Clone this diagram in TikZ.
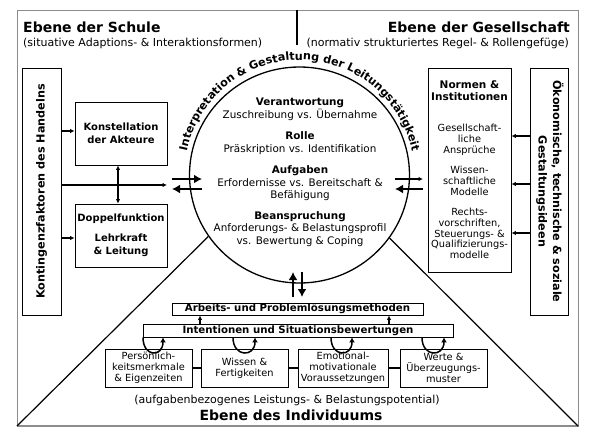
\documentclass[tikz,border=0pt]{standalone}
\usepackage{fontspec}
\setmainfont{DejaVu Sans}
\usetikzlibrary{arrows.meta,shapes.geometric,decorations.text}
\definecolor{framegray}{RGB}{140,140,140}
\newcommand\fsTitle{\fontsize{14}{16}\selectfont\bfseries}
\newcommand\fsSub{\fontsize{11}{13}\selectfont}
\newcommand\fsSide{\fontsize{11.2}{14.5}\selectfont\bfseries}
\newcommand\fsBoxB{\fontsize{10}{12.5}\selectfont\bfseries}
\newcommand\fsCirc{\fontsize{10.4}{12.5}\selectfont}
\newcommand\fsNorm{\fontsize{9.8}{10.7}\selectfont}
\newcommand\fsNormB{\fontsize{10.5}{10.7}\selectfont\bfseries}
\newcommand\fsSmall{\fontsize{9.8}{10.8}\selectfont}
\newcommand\fsBar{\fontsize{10.2}{12}\selectfont\bfseries}
\newcommand\fsArc{\fontsize{11.2}{13}\selectfont\bfseries}
\begin{document}
\begin{tikzpicture}[x=1pt,y=-1pt,
  box/.style={draw, line width=0.9pt, inner sep=0pt, align=center},
  sarr/.style={-{Latex[length=4.5pt,width=4.5pt]}, line width=1.1pt},
  dsarr/.style={{Latex[length=4.5pt,width=4.5pt]}-{Latex[length=4.5pt,width=4.5pt]}, line width=1.1pt},
  barr/.style={-{Latex[length=8pt,width=9pt]}, line width=2.4pt},
  uarr/.style={-{Latex[length=5pt,width=6pt]}, line width=1.5pt},
  txt/.style={inner sep=0pt}]
\useasboundingbox (0,0) rectangle (590,437);
% frame
\coordinate (ftl) at (17,10);
\coordinate (fbr) at (578,426);
\coordinate (fbl) at (17,426);
\draw[framegray, line width=0.8pt] (ftl) rectangle (fbr);
\draw[framegray, line width=1.8pt] (fbl) -- (fbr);
\coordinate (dvt) at (297,10);
\coordinate (dvb) at (297,45);
\draw[line width=1.3pt] (dvt) -- (dvb);
% titles
\node[txt, anchor=base west, font=\fsTitle] (t1) at (23,32) {Ebene der Schule};
\node[txt, anchor=base west, font=\fsSub] (s1) at (23,46) {(situative Adaptions- \& Interaktionsformen)};
\node[txt, anchor=base east, font=\fsTitle] (t2) at (570,32) {Ebene der Gesellschaft};
\node[txt, anchor=base east, font=\fsSub] (s2) at (569,46) {(normativ strukturiertes Regel- \& Rollengefüge)};
% left side
\node[box, minimum width=39, minimum height=247, font=\fsSide] (kont) at (41.5,191.5) {\rotatebox{90}{Kontingenzfaktoren des Handelns}};
\node[box, minimum width=92, minimum height=63, font=\fsBoxB] (konst) at (121,133.5) {Konstellation\\der Akteure};
\node[box, minimum width=92, minimum height=63, font=\fsBoxB] (doppel) at (121,235.5) {Doppelfunktion\\[7.5pt]Lehrkraft\\\& Leitung};
\coordinate (k1) at (0,131);
\coordinate (k2) at (0,238);
\coordinate (mk) at (167,185);
\coordinate (kv) at (118,0);
\draw[sarr] (kont.east |- k1) -- (konst.west |- k1);
\draw[sarr] (kont.east |- k2) -- (doppel.west |- k2);
\draw[sarr] (kont.east |- mk) -- (mk);
\draw[dsarr] (konst.south -| kv) -- (doppel.north -| kv);
% right side
\node[box, minimum width=83, minimum height=204, font=\fsNorm] (normen) at (469.5,170) {{\fsNormB Normen \&}\\[1.3pt]{\fsNormB Institutionen}\\[20pt]Gesellschaft-\\liche\\Ansprüche\\[10pt]Wissen-\\schaftliche\\Modelle\\[10pt]Rechts-\\vorschriften,\\Steuerungs- \&\\Qualifizierungs-\\modelle};
\node[box, minimum width=38, minimum height=247, font=\fsSide] (oekon) at (549,191.5) {\rotatebox{-90}{\begin{tabular}{@{}c@{}}Ökonomische, technische \& soziale\\Gestaltungsideen\end{tabular}}};
\coordinate (r1) at (0,136);
\coordinate (r2) at (0,184);
\coordinate (r3) at (0,233);
\draw[sarr] (oekon.west |- r1) -- (normen.east |- r1);
\draw[sarr] (oekon.west |- r2) -- (normen.east |- r2);
\draw[sarr] (oekon.west |- r3) -- (normen.east |- r3);
% circle
\node[draw, ellipse, line width=1.3pt, minimum width=220, minimum height=216, inner sep=0pt] (circ) at (299.5,175) {};
\node[txt, font=\fsCirc, align=center] (ctext) at (300,172.5) {\textbf{Verantwortung}\\Zuschreibung vs. Übernahme\\[9pt]\textbf{Rolle}\\Präskription vs. Identifikation\\[9pt]\textbf{Aufgaben}\\Erfordernisse vs. Bereitschaft \&\\Befähigung\\[8pt]\textbf{Beanspruchung}\\Anforderungs- \& Belastungsprofil\\vs. Bewertung \& Coping};
\begin{scope}[y=1pt]
\path[decorate, decoration={text along path, text align=center, text={|\fsArc|Interpretation {\&} Gestaltung der Leitungstätigkeit}}] (299.5,-175) ++(178:115) arc[start angle=178, end angle=2, radius=115];
\end{scope}
% arrows at circle
\coordinate (la) at (172,179);
\coordinate (lb) at (202,179);
\coordinate (lc) at (202,189);
\coordinate (ld) at (172,189);
\draw[barr] (la) -- (lb);
\draw[barr] (lc) -- (ld);
\coordinate (ra) at (395,179);
\coordinate (rb) at (423,179);
\coordinate (rc) at (423,189);
\coordinate (rd) at (395,189);
\draw[sarr] (ra) -- (rb);
\draw[barr] (rc) -- (rd);
\coordinate (ua) at (293,297);
\coordinate (ub) at (293,272);
\coordinate (da) at (302,272);
\coordinate (db) at (302,297);
\draw[barr] (ua) -- (ub);
\draw[barr] (da) -- (db);
% diagonals
\draw[line width=1.2pt] (circ.214) -- (fbl);
\draw[line width=1.2pt] (circ.325) -- (fbr);
% individual level
\node[box, minimum width=251, minimum height=12, font=\fsBar] (arb) at (297.5,309) {Arbeits- und Problemlösungsmethoden};
\node[box, minimum width=310, minimum height=13, font=\fsBar] (intent) at (298,330.5) {Intentionen und Situationsbewertungen};
\coordinate (ax1) at (200,0);
\coordinate (ax2) at (389,0);
\draw[sarr] (intent.north -| ax1) -- (arb.south -| ax1);
\draw[sarr] (intent.north -| ax2) -- (arb.south -| ax2);
\node[box, minimum width=87, minimum height=38, font=\fsSmall] (b1) at (148.5,368) {Persönlich-\\keitsmerkmale\\\& Eigenzeiten};
\node[box, minimum width=87, minimum height=38, font=\fsSmall] (b2) at (244.5,368) {Wissen \&\\Fertigkeiten};
\node[box, minimum width=90, minimum height=38, font=\fsSmall] (b3) at (343,368) {Emotional-\\motivationale\\Voraussetzungen};
\node[box, minimum width=87, minimum height=38, font=\fsSmall] (b4) at (443.5,368) {Werte \&\\Überzeugungs-\\muster};
\draw[line width=2pt] (b1) -- (b2);
\draw[line width=2pt] (b2) -- (b3);
\draw[line width=2pt] (b3) -- (b4);
\draw[uarr] ([xshift=-155]intent.south) .. controls +(0,20) and +(0,20) .. ([xshift=-135]intent.south);
\draw[uarr] ([xshift=-65]intent.south) .. controls +(0,20) and +(0,20) .. ([xshift=-43]intent.south);
\draw[uarr] ([xshift=33]intent.south) .. controls +(0,20) and +(0,20) .. ([xshift=54]intent.south);
\draw[uarr] ([xshift=124]intent.south) .. controls +(0,20) and +(0,20) .. ([xshift=146]intent.south);
\node[txt, anchor=base, font=\fsSub] (bs) at (287,403) {(aufgabenbezogenes Leistungs- \& Belastungspotential)};
\node[txt, anchor=base, font=\fsTitle] (bt) at (291,420) {Ebene des Individuums};
\end{tikzpicture}
\end{document}
